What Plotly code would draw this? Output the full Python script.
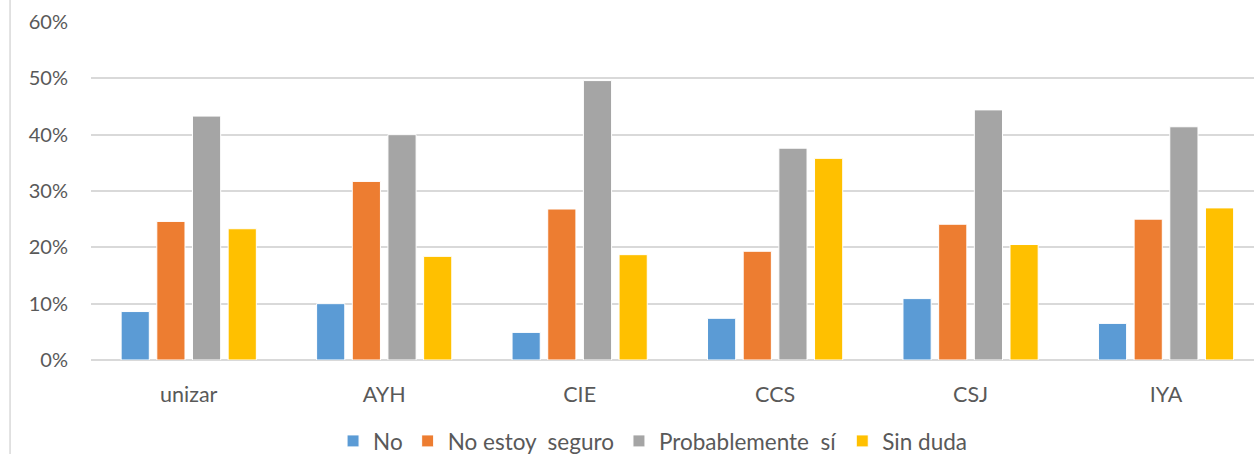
import plotly.graph_objects as go

# ─── Data ─────────────────────────────────────────────────────────────────────

categories = ["unizar", "AYH", "CIE", "CCS", "CSJ", "IYA"]

no          = [0.086, 0.100, 0.049, 0.074, 0.109, 0.065]
no_seguro   = [0.246, 0.317, 0.268, 0.193, 0.241, 0.250]
probable_si = [0.433, 0.400, 0.496, 0.376, 0.444, 0.414]
sin_duda    = [0.233, 0.184, 0.187, 0.358, 0.205, 0.270]

series_names = ["No", "No estoy\u00a0 seguro", "Probablemente\u00a0 sí", "Sin duda"]
series_vals  = [no, no_seguro, probable_si, sin_duda]
colors       = ["#5B9BD5", "#ED7D31", "#A5A5A5", "#FFC000"]

FONT = "Lato, 'Open Sans', sans-serif"
GREY_TXT = "#595959"

fig = go.Figure()
for name, vals, col in zip(series_names, series_vals, colors):
    fig.add_trace(go.Bar(
        x=categories, y=vals, name=name,
        marker=dict(color=col, line=dict(color="white", width=1)),
    ))

fig.update_layout(
    width=1254, height=454,
    margin=dict(l=91, r=0, t=22, b=94),
    plot_bgcolor="white", paper_bgcolor="white",
    barmode="group", bargap=0.27, bargroupgap=0.21,
    font=dict(family=FONT, size=20, color=GREY_TXT),
    showlegend=True,
    legend=dict(orientation="h", xref="container", yref="container",
                x=0.2656, xanchor="left", y=0.028, yanchor="middle",
                font=dict(size=22.5, color=GREY_TXT),
                itemwidth=30, traceorder="normal"),
)

fig.update_xaxes(range=[-0.5, 5.45], showgrid=False, zeroline=False,
                 showline=False, ticks="", ticklabelstandoff=19,
                 tickfont=dict(size=21.5, color=GREY_TXT))
fig.update_yaxes(range=[0, 0.6], dtick=0.1, tickformat=".0%",
                 showgrid=True, gridcolor="#D9D9D9", gridwidth=1.5,
                 zeroline=True, zerolinecolor="#D9D9D9", zerolinewidth=1.5,
                 showline=False, ticks="", ticklabelstandoff=22,
                 tickfont=dict(size=20, color=GREY_TXT))

# chart frame edge at the left
fig.add_shape(type="line", xref="paper", yref="paper",
              x0=-0.0696, x1=-0.0696, y0=-0.29, y1=1.07,
              line=dict(color="#D9D9D9", width=1.5))

fig.write_html("out.html",
               config={"displayModeBar": False},
               post_script="document.body.style.margin='0';"
                           "document.body.style.overflow='hidden';")
